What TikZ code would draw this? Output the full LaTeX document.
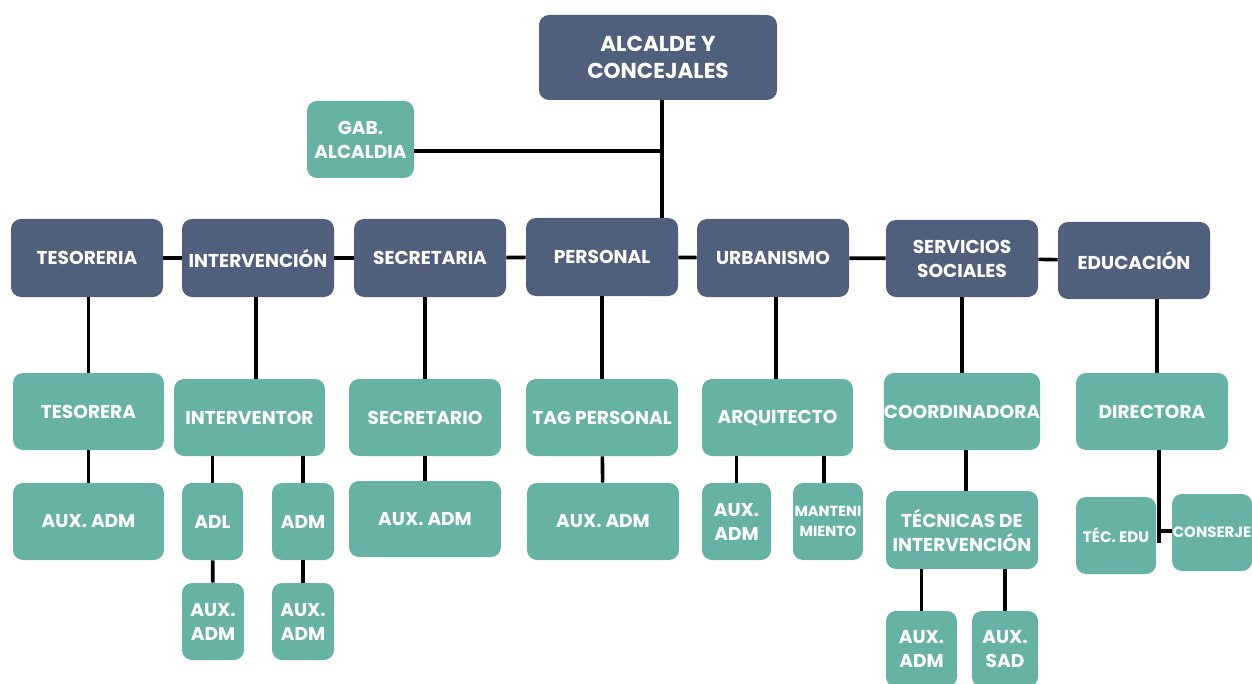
\documentclass[tikz,border=0pt]{standalone}
\usepackage{fontspec}
\setmainfont{Poppins}
\usetikzlibrary{calc}
\definecolor{slate}{HTML}{4F5F7C}
\definecolor{teal}{HTML}{66B3A6}
\tikzset{
  box/.style = {rectangle, rounded corners=5pt, align=center, inner sep=0pt,
    text=white, font=\bfseries\fontsize{9.3}{12}\selectfont},
  dark_node/.style = {box, fill=slate},
  teal_node/.style = {box, fill=teal},
  sz/.style 2 args = {minimum width=#1*0.5pt, minimum height=#2*0.5pt},
  link/.style = {draw=black, line width=1.8pt}
}
\begin{document}
\begin{tikzpicture}[x=0.5pt, y=-0.5pt]
  \useasboundingbox (0,0) rectangle (1252,684);
  \clip (0,0) rectangle (1252,684);
  % top
  \node [dark_node, sz={238}{85}, font=\bfseries\fontsize{10.8}{13.5}\selectfont] (alcalde) at (658,57.5) {ALCALDE Y\\CONCEJALES};
  \node [teal_node, sz={107}{77}] (gab) at (360.5,139.5) {GAB.\\ALCALDIA};
  % areas
  \node [dark_node, sz={152}{78}] (tes) at (87,258) {TESORERIA};
  \node [dark_node, sz={152}{78}] (inter) at (258,258) {INTERVENCIÓN};
  \node [dark_node, sz={152}{78}] (secr) at (430,258) {SECRETARIA};
  \node [dark_node, sz={152}{78}] (pers) at (602,257) {PERSONAL};
  \node [dark_node, sz={152}{78}] (urb) at (773,258) {URBANISMO};
  \node [dark_node, sz={152}{77}] (ss) at (962,258.5) {SERVICIOS\\SOCIALES};
  \node [dark_node, sz={152}{77}] (edu) at (1134,260.5) {EDUCACIÓN};
  % responsables
  \node [teal_node, sz={151}{77}] (tesora) at (88.5,411.5) {TESORERA};
  \node [teal_node, sz={151}{77}] (interv) at (249.5,417.5) {INTERVENTOR};
  \node [teal_node, sz={152}{77}] (secrio) at (425,417.5) {SECRETARIO};
  \node [teal_node, sz={152}{77}] (tag) at (602,417.5) {TAG PERSONAL};
  \node [teal_node, sz={151}{77}] (arq) at (777.5,417.5) {ARQUITECTO};
  \node [teal_node, sz={152}{77}] (coord) at (962,411.5) {COORDINADORA};
  \node [teal_node, sz={152}{77}] (dir) at (1152,411.5) {DIRECTORA};
  % personal
  \node [teal_node, sz={151}{77}] (auxtes) at (88.5,521.5) {AUX. ADM};
  \node [teal_node, sz={61}{77}] (adl) at (212.5,521.5) {ADL};
  \node [teal_node, sz={62}{77}] (adm) at (303,521.5) {ADM};
  \node [teal_node, sz={62}{77}] (auxadl) at (213,621.5) {AUX.\\ADM};
  \node [teal_node, sz={62}{77}] (auxadm) at (303,621.5) {AUX.\\ADM};
  \node [teal_node, sz={152}{76}] (auxsec) at (425,519) {AUX. ADM};
  \node [teal_node, sz={152}{77}] (auxtag) at (603,521.5) {AUX. ADM};
  \node [teal_node, sz={69}{77}] (auxarq) at (736.5,521.5) {AUX.\\ADM};
  \node [teal_node, sz={70}{77}, font=\bfseries\fontsize{7.3}{10}\selectfont] (mant) at (828,521.5) {MANTENI\\MIENTO};
  \node [teal_node, sz={152}{78}] (tecint) at (962,530) {TÉCNICAS DE\\INTERVENCIÓN};
  \node [teal_node, sz={71}{76}] (auxss) at (921.5,649) {AUX.\\ADM};
  \node [teal_node, sz={66}{76}] (auxsad) at (1005,649) {AUX.\\SAD};
  \node [teal_node, sz={80}{77}, font=\bfseries\fontsize{7.6}{10}\selectfont] (tecedu) at (1116,535.5) {TÉC. EDU};
  \node [teal_node, sz={80}{77}, font=\bfseries\fontsize{7.5}{10}\selectfont] (conserje) at (1212,532.5) {CONSERJE};
  % connectors
  \coordinate (jn) at (662,151);
  \draw [link] (alcalde.south -| jn) -- (jn |- pers.north);
  \draw [link] (jn -| gab.east) -- (jn);
  \draw [link] (tes) -- (inter);
  \draw [link] (inter) -- (secr);
  \draw [link] (secr) -- (pers);
  \draw [link] (pers) -- (urb);
  \draw [link] (urb) -- (ss);
  \draw [link] (ss) -- (edu);
  \draw [link] (tes.south -| tesora.north) -- (tesora.north);
  \draw [link] (inter.south -| 256,0) -- (interv.north -| 256,0);
  \draw [link] (secr.south -| secrio.north) -- (secrio.north);
  \draw [link] (pers.south) -- (tag.north);
  \draw [link] (urb.south -| 776,0) -- (arq.north -| 776,0);
  \draw [link] (ss.south) -- (coord.north);
  \draw [link] (edu.south -| 1157,0) -- (dir.north -| 1157,0);
  \draw [link] (tesora) -- (auxtes);
  \draw [link] (interv.south -| adl.north) -- (adl.north);
  \draw [link] (interv.south -| adm.north) -- (adm.north);
  \draw [link] (adl) -- (auxadl);
  \draw [link] (adm) -- (auxadm);
  \draw [link] (secrio) -- (auxsec);
  \draw [link] (tag) -- (auxtag);
  \draw [link] (arq.south -| auxarq.north) -- (auxarq.north);
  \draw [link] (arq.south -| 824,0) -- (mant.north -| 824,0);
  \draw [link] (coord.south -| 966,0) -- (tecint.north -| 966,0);
  \draw [link] (tecint.south -| auxss.north) -- (auxss.north);
  \draw [link] (tecint.south -| auxsad.north) -- (auxsad.north);
  \coordinate (eduend) at (1159,543);
  \draw [link] (dir.south -| eduend) -- (eduend);
  \draw [link] (1159,531) -- (conserje.west |- 1159,531);
\end{tikzpicture}
\end{document}
